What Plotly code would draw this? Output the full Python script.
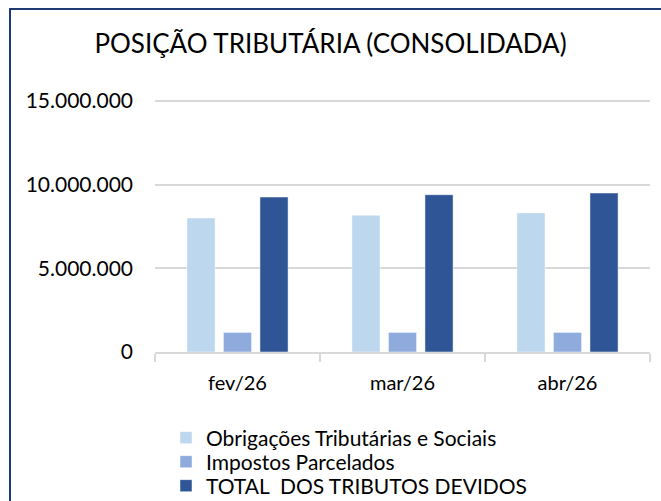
import plotly.graph_objects as go

categories = ["fev/26", "mar/26", "abr/26"]
obrigacoes = [8010000, 8170000, 8310000]
parcelados = [1170000, 1170000, 1170000]
total = [9260000, 9400000, 9500000]
series_names = ["Obrigações Tributárias e Sociais", "Impostos Parcelados", "TOTAL  DOS TRIBUTOS DEVIDOS"]
colors = ["#BDD7EE", "#8FAADC", "#2F5597"]
y_ticks = [0, 5000000, 10000000, 15000000]
y_tick_labels = ["0", "5.000.000", "10.000.000", "15.000.000"]

W, H = 661, 501
ML, MR, MT, MB = 155, 11, 99, 149
FONT = "Lato, 'Open Sans', sans-serif"
legend_ids = ["legend", "legend2", "legend3"]
legend_centers_px = [438, 462, 486]

fig = go.Figure()
for name, vals, col, lid in zip(series_names, [obrigacoes, parcelados, total], colors, legend_ids):
    fig.add_trace(go.Bar(
        x=categories, y=vals, name=name, legend=lid,
        marker=dict(color=col, line=dict(color="rgba(255,255,255,0.6)", width=0.8)),
    ))

pw = W - ML - MR
ph = H - MT - MB
def px_x(p):
    return (p - ML) / pw
def px_y(p):
    return 1 - (p - MT) / ph

legend_common = dict(orientation="v", xref="container", yref="container",
                     x=166 / W, xanchor="left", yanchor="middle",
                     font=dict(family=FONT, size=21, color="#000000"),
                     bgcolor="rgba(0,0,0,0)", itemclick=False, itemdoubleclick=False)
legend_layout = {}
for lid, cy in zip(legend_ids, legend_centers_px):
    legend_layout[lid] = dict(legend_common, y=1 - cy / H)

fig.update_layout(
    width=W, height=H,
    margin=dict(l=ML, r=MR, t=MT, b=MB, pad=0, autoexpand=False),
    paper_bgcolor="white", plot_bgcolor="white",
    barmode="group", bargap=0.336, bargroupgap=0.23,
    font=dict(family=FONT, size=21, color="#000000"),
    title=dict(text="POSIÇÃO TRIBUTÁRIA (CONSOLIDADA)", x=0.5, xref="container",
               xanchor="center", yref="container", y=1 - 44 / H, yanchor="middle",
               font=dict(family=FONT, size=26, color="#000000")),
    showlegend=True,
    xaxis=dict(showgrid=False, showline=True, linecolor="#D9D9D9", linewidth=1.5,
               ticks="outside", tickson="boundaries", ticklen=8, tickcolor="#D9D9D9", tickwidth=1.5,
               tickfont=dict(family=FONT, size=20, color="#000000"), ticklabelstandoff=12),
    yaxis=dict(range=[0, 15120000], tickmode="array", tickvals=y_ticks, ticktext=y_tick_labels,
               showgrid=True, gridcolor="#D9D9D9", gridwidth=1.5, zeroline=False, showline=False,
               ticks="", tickfont=dict(family=FONT, size=21, color="#000000"), ticklabelstandoff=21),
    shapes=[dict(type="rect", xref="paper", yref="paper",
                 x0=px_x(10), x1=px_x(675), y0=px_y(515), y1=px_y(9),
                 line=dict(color="#1F3B73", width=2), fillcolor="rgba(0,0,0,0)", layer="above")],
    **legend_layout,
)

fig.write_html(
    "out.html",
    config={"displayModeBar": False},
    post_script="document.body.style.margin='0';document.body.style.overflow='hidden';",
)
